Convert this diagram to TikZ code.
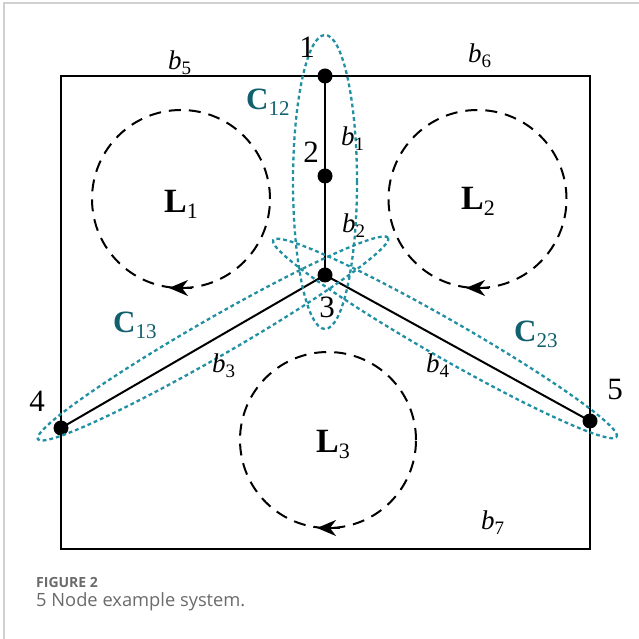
\documentclass[tikz,border=0pt]{standalone}
\usepackage{fontspec}
\setmainfont{Liberation Serif}
\newfontfamily\capfont{Open Sans}
\usetikzlibrary{arrows.meta}
\definecolor{cutc}{HTML}{2190A3}
\definecolor{labc}{HTML}{10606E}
\definecolor{framec}{HTML}{D0D0D0}
\definecolor{capc}{HTML}{6A6A6A}
\newcommand\blab[1]{{\fontsize{27}{27}\selectfont\itshape b\upshape\raisebox{-5pt}{\fontsize{19}{19}\selectfont #1}}}
\newcommand\clab[1]{{\color{labc}\fontsize{31}{31}\selectfont\bfseries C\mdseries\raisebox{-6pt}{\fontsize{21}{21}\selectfont #1}}}
\newcommand\llab[1]{{\fontsize{34}{34}\selectfont\bfseries L\mdseries\raisebox{-6pt}{\fontsize{22}{22}\selectfont #1}}}
\tikzset{
  wire/.style={line width=2pt},
  dotnode/.style={circle, fill=black, inner sep=0pt, minimum size=15pt},
  loopc/.style={line width=2pt, dash pattern=on 12pt off 8pt},
  looparr/.style={line width=2pt, -{Stealth[length=19pt,width=16pt,inset=6pt]}},
  cutset/.style={draw=cutc, line width=2.3pt, dash pattern=on 3.8pt off 3pt},
  numlab/.style={inner sep=0pt, anchor=base, font=\fontsize{31}{31}\selectfont},
  txt/.style={inner sep=0pt, anchor=base west},
}
\begin{document}
\begin{tikzpicture}[x=1pt,y=1pt]
\useasboundingbox (0,0) rectangle (639,639);
% page frame
\draw[framec, line width=1.5pt] (4,0) -- (4,636) -- (639,636);
% corners of the box
\coordinate (TL) at (61,563);
\coordinate (TR) at (590,563);
\coordinate (BR) at (590,90);
\coordinate (BL) at (61,90);
% nodes
\node[dotnode] (n1) at (325,563) {};
\node[dotnode] (n2) at (325,463) {};
\node[dotnode] (n3) at (325,364) {};
\node[dotnode] (n4) at (61,211) {};
\node[dotnode] (n5) at (590,218) {};
% box and branches
\draw[wire] (TL) -- (TR) -- (BR) -- (BL) -- cycle;
\draw[wire] (n1.center) -- (n2.center) -- (n3.center);
\draw[wire] (n3.center) -- (n4.center);
\draw[wire] (n3.center) -- (n5.center);
% loops
\draw[loopc] (181,440) circle[radius=89];
\draw[loopc] (477.5,440) circle[radius=89];
\draw[loopc] (328,199) circle[radius=88];
\coordinate (a1s) at (192,351); \coordinate (a1e) at (169,351);
\coordinate (a2s) at (489,351); \coordinate (a2e) at (466,351);
\coordinate (a3s) at (340,111); \coordinate (a3e) at (317,111);
\draw[looparr] (a1s) -- (a1e);
\draw[looparr] (a2s) -- (a2e);
\draw[looparr] (a3s) -- (a3e);
% cut sets
\draw[cutset] (325,457) ellipse[x radius=32, y radius=147];
\draw[cutset, rotate around={29.9:(213,300.5)}] (213,300.5) ellipse[x radius=202, y radius=19];
\draw[cutset, rotate around={-29.8:(445,300.5)}] (445,300.5) ellipse[x radius=198, y radius=19];
% node numbers
\node[numlab] (t1) at (307,581) {1};
\node[numlab] (t2) at (311,476) {2};
\node[numlab] (t3) at (327,321) {3};
\node[numlab] (t4) at (37,227) {4};
\node[numlab] (t5) at (615,239) {5};
% branch labels
\node[txt] (b1) at (341,493) {\blab{1}};
\node[txt] (b2) at (342,406) {\blab{2}};
\node[txt] (b3) at (212,266) {\blab{3}};
\node[txt] (b4) at (426,266) {\blab{4}};
\node[txt] (b5) at (168,569) {\blab{5}};
\node[txt] (b6) at (468,576) {\blab{6}};
\node[txt] (b7) at (481,109) {\blab{7}};
% cut set labels
\node[txt] (c12) at (246,529) {\clab{12}};
\node[txt] (c13) at (113,306) {\clab{13}};
\node[txt] (c23) at (514,297) {\clab{23}};
% loop labels
\node[txt] (l1) at (164,426) {\llab{1}};
\node[txt] (l2) at (461,429) {\llab{2}};
\node[txt] (l3) at (316,186) {\llab{3}};
% caption
\node[txt, text=capc] (cap1) at (36,51) {\capfont\bfseries\fontsize{14}{14}\selectfont FIGURE 2};
\node[txt, text=capc] (cap2) at (36,32) {\capfont\fontsize{18.3}{18.3}\selectfont 5 Node example system.};
\end{tikzpicture}
\end{document}
